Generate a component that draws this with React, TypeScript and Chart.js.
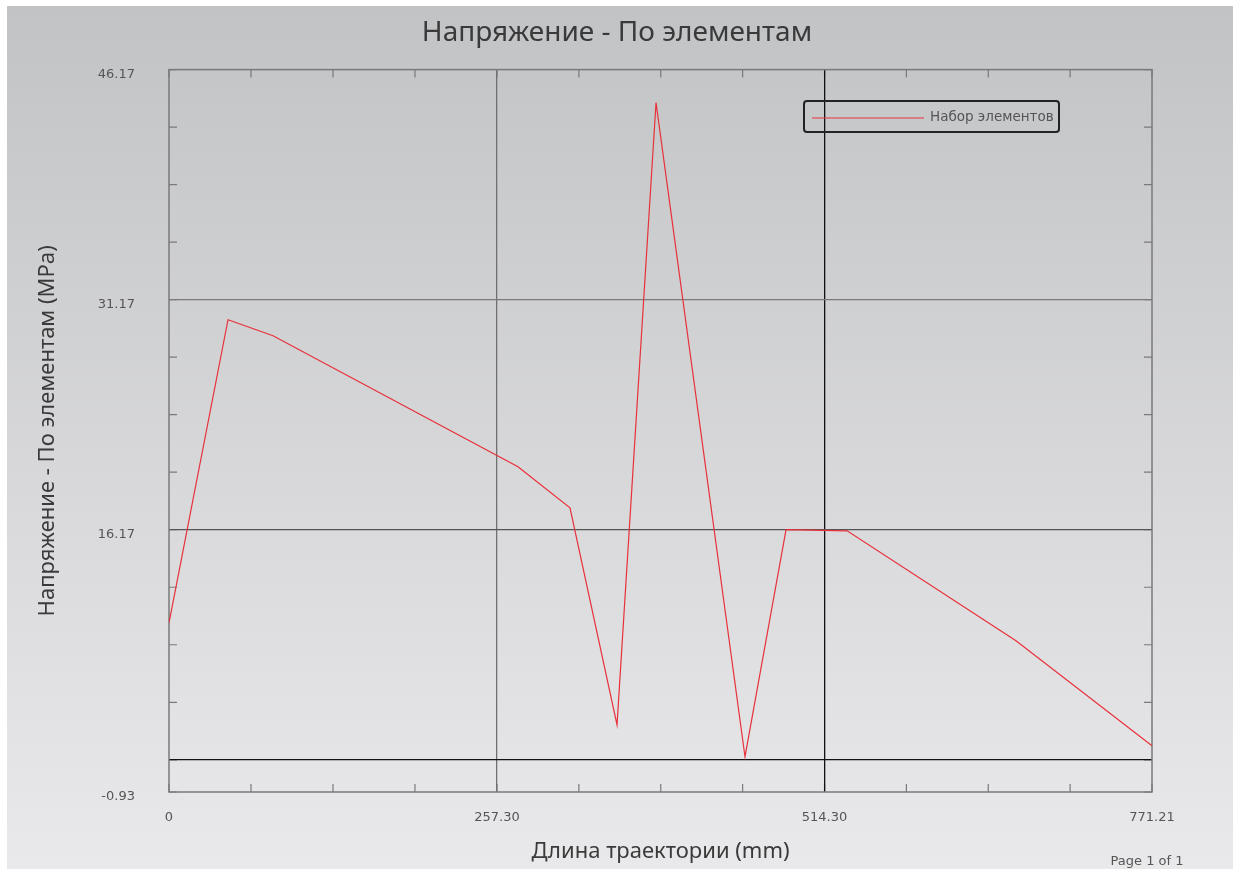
import React, { useEffect, useRef } from 'react';
import { Chart, registerables } from 'chart.js';

Chart.register(...registerables);

const chartTitle = 'Напряжение - По элементам';
const xAxisTitle = 'Длина траектории (mm)';
const yAxisTitle = 'Напряжение - По элементам (MPa)';
const seriesLabel = 'Набор элементов';
const pageLabel = 'Page 1 of 1';

const xValues = [0, 46.3, 81.6, 273.8, 314.6, 351.5, 382.1, 451.9, 484.1, 532.0, 664.5, 771.21];
const yValues = [10.1, 29.86, 28.82, 20.28, 17.6, 3.45, 44.02, 1.37, 16.17, 16.1, 8.93, 2.08];

const xMin = 0;
const xMax = 771.21;
const yMin = -0.93;
const yMax = 46.17;
const xMajorTicks = [0, 257.3, 514.3, 771.21];
const xTickLabels = ['0', '257.30', '514.30', '771.21'];
const yMajorTicks = [46.17, 31.17, 16.17, 1.17];
const yTickLabelValues = [46.17, 31.17, 16.17, -0.93];
const yTickLabels = ['46.17', '31.17', '16.17', '-0.93'];
const minorPerMajor = 4;

const near = (a: number, b: number) => Math.abs(a - b) < 1e-6;

function buildMinor(majors: number[]): number[] {
  const out: number[] = [];
  for (let i = 0; i < majors.length - 1; i++) {
    const a = majors[i];
    const b = majors[i + 1];
    for (let k = 0; k < minorPerMajor; k++) out.push(a + ((b - a) * k) / minorPerMajor);
  }
  out.push(majors[majors.length - 1]);
  return out;
}

const xTickValues = buildMinor(xMajorTicks);
const yTickValues = [...buildMinor(yMajorTicks), yMin];

const backgroundPlugin = {
  id: 'bgPlugin',
  beforeDraw(chart: any) {
    const { ctx, width, height, chartArea, scales } = chart;
    ctx.save();
    ctx.fillStyle = '#ffffff';
    ctx.fillRect(0, 0, width, height);
    const g = ctx.createLinearGradient(0, 6, 0, height - 6);
    g.addColorStop(0, '#c2c3c5');
    g.addColorStop(1, '#e9e9eb');
    ctx.fillStyle = g;
    ctx.fillRect(7, 6, width - 14, height - 12);

    const { left, right, top, bottom } = chartArea;
    ctx.strokeStyle = '#7a7a7a';
    ctx.lineWidth = 1.2;
    const tl = 8;
    ctx.beginPath();
    xTickValues.forEach((v) => {
      const px = scales.x.getPixelForValue(v);
      ctx.moveTo(px, bottom);
      ctx.lineTo(px, bottom - tl);
      ctx.moveTo(px, top);
      ctx.lineTo(px, top + tl);
    });
    yTickValues.forEach((v) => {
      const py = scales.y.getPixelForValue(v);
      ctx.moveTo(left, py);
      ctx.lineTo(left + tl, py);
      ctx.moveTo(right, py);
      ctx.lineTo(right - tl, py);
    });
    ctx.stroke();
    ctx.restore();
  },
};

const decorPlugin = {
  id: 'decorPlugin',
  beforeDatasetsDraw(chart: any) {
    const { ctx, chartArea } = chart;
    const { left, right, top, bottom } = chartArea;
    ctx.save();
    ctx.strokeStyle = '#7a7a7a';
    ctx.lineWidth = 1.5;
    ctx.strokeRect(left, top, right - left, bottom - top);
    ctx.restore();
  },
  afterDraw(chart: any) {
    const { ctx } = chart;
    const ds = chart.data.datasets[0];
    ctx.save();
    const lx = 804, ly = 101, lw = 255, lh = 31;
    ctx.strokeStyle = '#222222';
    ctx.lineWidth = 2;
    ctx.beginPath();
    if (ctx.roundRect) ctx.roundRect(lx, ly, lw, lh, 3);
    else ctx.rect(lx, ly, lw, lh);
    ctx.stroke();
    ctx.strokeStyle = ds.borderColor;
    ctx.lineWidth = 1.2;
    ctx.beginPath();
    ctx.moveTo(812, 118);
    ctx.lineTo(924, 118);
    ctx.stroke();
    ctx.fillStyle = '#555555';
    ctx.font = '13.5px "DejaVu Sans"';
    ctx.textAlign = 'left';
    ctx.textBaseline = 'middle';
    ctx.fillText(ds.label, 930, 117);

    ctx.font = '13px "DejaVu Sans"';
    ctx.textAlign = 'center';
    ctx.fillText(pageLabel, 1147, 862);
    ctx.restore();
  },
};

export default function App() {
  const canvasRef = useRef<HTMLCanvasElement | null>(null);

  useEffect(() => {
    if (!canvasRef.current) return;
    const points = xValues.map((x, i) => ({ x, y: yValues[i] }));
    const chart = new Chart(canvasRef.current, {
      type: 'line',
      data: {
        datasets: [
          {
            label: seriesLabel,
            data: points,
            borderColor: '#e8303a',
            borderWidth: 1.2,
            pointRadius: 0,
            tension: 0,
            fill: false,
          },
        ],
      },
      plugins: [backgroundPlugin, decorPlugin],
      options: {
        responsive: false,
        animation: false,
        layout: { padding: { left: 0, top: 0, right: 6, bottom: 0 } },
        plugins: {
          legend: { display: false },
          tooltip: { enabled: false },
          title: {
            display: true,
            text: chartTitle,
            color: '#3a3a3a',
            font: { family: '"Noto Sans"', size: 28, weight: 'normal' },
            padding: { top: 16, bottom: 20 },
          },
        },
        scales: {
          x: {
            type: 'linear',
            min: xMin,
            max: xMax,
            afterBuildTicks: (scale: any) => {
              scale.ticks = xTickValues.map((v) => ({ value: v }));
            },
            afterFit: (scale: any) => {
              scale.height = 83;
            },
            ticks: {
              autoSkip: false,
              maxRotation: 0,
              padding: 18,
              color: '#555555',
              font: { family: '"DejaVu Sans"', size: 13 },
              callback: (v: any) => {
                const i = xMajorTicks.findIndex((m) => near(m, Number(v)));
                return i >= 0 ? xTickLabels[i] : '';
              },
            },
            grid: {
              drawTicks: false,
              lineWidth: 1.3,
              color: (c: any) => {
                const v = c.tick ? c.tick.value : NaN;
                if (near(v, 257.3)) return '#707070';
                if (near(v, 514.3)) return '#111111';
                return 'rgba(0,0,0,0)';
              },
            },
            border: { display: false },
            title: {
              display: true,
              text: xAxisTitle,
              color: '#3a3a3a',
              font: { family: '"Noto Sans"', size: 22 },
              padding: { top: 0, bottom: 10 },
            },
          },
          y: {
            type: 'linear',
            min: yMin,
            max: yMax,
            afterBuildTicks: (scale: any) => {
              scale.ticks = yTickValues.map((v) => ({ value: v }));
            },
            afterFit: (scale: any) => {
              scale.width = 169;
            },
            ticks: {
              autoSkip: false,
              padding: 34,
              labelOffset: 5,
              color: '#555555',
              font: { family: '"DejaVu Sans"', size: 13 },
              callback: (v: any) => {
                const i = yTickLabelValues.findIndex((m) => near(m, Number(v)));
                return i >= 0 ? yTickLabels[i] : '';
              },
            },
            grid: {
              drawTicks: false,
              lineWidth: 1.3,
              color: (c: any) => {
                const v = c.tick ? c.tick.value : NaN;
                if (near(v, 31.17)) return '#7a7a7a';
                if (near(v, 16.17)) return '#555555';
                if (near(v, 1.17)) return '#111111';
                return 'rgba(0,0,0,0)';
              },
            },
            border: { display: false },
            title: {
              display: true,
              text: yAxisTitle,
              color: '#3a3a3a',
              font: { family: '"Noto Sans"', size: 22 },
              padding: { top: 35, bottom: 0 },
            },
          },
          yRight: {
            type: 'linear',
            position: 'right',
            min: yMin,
            max: yMax,
            afterFit: (scale: any) => {
              scale.width = 82;
            },
            ticks: { display: false },
            grid: { display: false },
            border: { display: false },
          },
        },
      },
    });
    return () => chart.destroy();
  }, []);

  return (
    <div style={{ position: 'absolute', left: 0, top: 0, width: 1240, height: 875 }}>
      <canvas ref={canvasRef} width={1240} height={875} style={{ width: 1240, height: 875, display: 'block' }} />
    </div>
  );
}
